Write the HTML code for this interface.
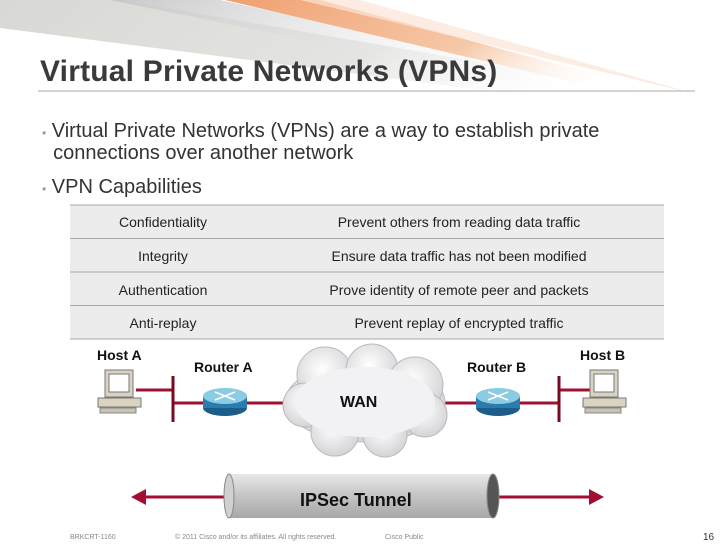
<!DOCTYPE html>
<html><head><meta charset="utf-8"><style>
body{margin:0;width:728px;height:546px;overflow:hidden;background:#fff;font-family:"Liberation Sans",sans-serif;position:relative}
.a{position:absolute;white-space:nowrap}
</style></head><body>
<svg class="a" style="left:0;top:0" width="728" height="546">
<defs>
<linearGradient id="g1" x1="0" y1="0" x2="1" y2="0.2"><stop offset="0" stop-color="#d8d8d4"/><stop offset="0.6" stop-color="#e4e4e2"/><stop offset="1" stop-color="#fff" stop-opacity="0"/></linearGradient>
<linearGradient id="g2" x1="0" y1="0" x2="1" y2="0.3"><stop offset="0" stop-color="#f0a070"/><stop offset="0.6" stop-color="#f6c8a8"/><stop offset="1" stop-color="#fff" stop-opacity="0"/></linearGradient>
<linearGradient id="g3" x1="0" y1="0" x2="1" y2="0.3"><stop offset="0" stop-color="#c8c8c8"/><stop offset="1" stop-color="#fff" stop-opacity="0"/></linearGradient>
<linearGradient id="tub" x1="0" y1="0" x2="0" y2="1"><stop offset="0" stop-color="#e8e8e8"/><stop offset="0.5" stop-color="#c4c4c4"/><stop offset="1" stop-color="#a8a8a8"/></linearGradient>
<radialGradient id="cl" cx="0.45" cy="0.4" r="0.6"><stop offset="0" stop-color="#fff"/><stop offset="1" stop-color="#d4d4d8"/></radialGradient>
</defs>
<polygon points="0,0 120,0 700,100 560,100 0,28" fill="url(#g1)"/>
<polygon points="110,0 220,0 680,100 600,100" fill="url(#g3)"/>
<polygon points="225,0 320,0 690,100 650,100" fill="url(#g2)"/>
<polygon points="300,0 360,0 700,95" fill="#fbe4d4" opacity="0.7"/>
<line x1="38" y1="91" x2="695" y2="91" stroke="#a8a8a8" stroke-width="1"/>
<rect x="70" y="205" width="594" height="134" fill="#ececec"/>
<g stroke="#a8a8a8" stroke-width="1"><line x1="70" y1="205" x2="664" y2="205"/><line x1="70" y1="238.5" x2="664" y2="238.5"/><line x1="70" y1="272" x2="664" y2="272"/><line x1="70" y1="305.5" x2="664" y2="305.5"/><line x1="70" y1="339" x2="664" y2="339"/></g>
<g font-family="Liberation Sans" font-size="14" fill="#222" text-anchor="middle">
<text x="163" y="227">Confidentiality</text><text x="459" y="227">Prevent others from reading data traffic</text>
<text x="163" y="261">Integrity</text><text x="459" y="261">Ensure data traffic has not been modified</text>
<text x="163" y="295">Authentication</text><text x="459" y="295">Prove identity of remote peer and packets</text>
<text x="163" y="328">Anti-replay</text><text x="459" y="328">Prevent replay of encrypted traffic</text>
</g>
<g stroke="#a01030" stroke-width="3">
<line x1="136" y1="390" x2="173" y2="390"/><line x1="173" y1="403" x2="300" y2="403"/>
<line x1="440" y1="403" x2="559" y2="403"/><line x1="559" y1="390" x2="590" y2="390"/>
</g>
<g stroke="#7a0a20" stroke-width="3"><line x1="173" y1="376" x2="173" y2="422"/><line x1="559" y1="376" x2="559" y2="422"/></g>
<g fill="url(#cl)" stroke="#bbb" stroke-width="1">
<ellipse cx="365" cy="402" rx="80" ry="40"/>
<circle cx="325" cy="375" r="28"/><circle cx="372" cy="370" r="26"/><circle cx="415" cy="385" r="28"/>
<circle cx="305" cy="405" r="22"/><circle cx="335" cy="432" r="24"/><circle cx="385" cy="435" r="22"/><circle cx="425" cy="415" r="22"/>
</g>
<ellipse cx="365" cy="402" rx="70" ry="35" fill="#f2f2f4"/>
<text x="340" y="407" font-family="Liberation Sans" font-weight="bold" font-size="16" fill="#111">WAN</text>
<g>
<ellipse cx="225" cy="408" rx="22" ry="8" fill="#1c5c88"/><rect x="203" y="396" width="44" height="12" fill="#2a7cac"/><ellipse cx="225" cy="396" rx="22" ry="8" fill="#8ccbe4"/>
<ellipse cx="498" cy="408" rx="22" ry="8" fill="#1c5c88"/><rect x="476" y="396" width="44" height="12" fill="#2a7cac"/><ellipse cx="498" cy="396" rx="22" ry="8" fill="#8ccbe4"/>
<g stroke="#fff" stroke-width="1.5"><line x1="215" y1="392" x2="235" y2="400"/><line x1="215" y1="400" x2="235" y2="392"/><line x1="488" y1="392" x2="508" y2="400"/><line x1="488" y1="400" x2="508" y2="392"/></g>
</g>
<g>
<rect x="105" y="370" width="28" height="27" fill="#d8d4c0" stroke="#777"/><rect x="109" y="374" width="20" height="18" fill="#fff" stroke="#777"/>
<rect x="98" y="398" width="43" height="9" fill="#d8d4c0" stroke="#777"/><rect x="100" y="408" width="36" height="5" fill="#c8c4b0" stroke="#888"/>
<rect x="590" y="370" width="28" height="27" fill="#d8d4c0" stroke="#777"/><rect x="594" y="374" width="20" height="18" fill="#fff" stroke="#777"/>
<rect x="583" y="398" width="43" height="9" fill="#d8d4c0" stroke="#777"/><rect x="585" y="408" width="36" height="5" fill="#c8c4b0" stroke="#888"/>
</g>
<g font-family="Liberation Sans" font-weight="bold" font-size="14" fill="#111">
<text x="97" y="360">Host A</text><text x="194" y="372">Router A</text><text x="467" y="372">Router B</text><text x="580" y="360">Host B</text>
</g>
<g stroke="#a01030" stroke-width="3"><line x1="140" y1="497" x2="230" y2="497"/><line x1="490" y1="497" x2="596" y2="497"/></g>
<polygon points="131,497 146,489 146,505" fill="#a01030"/><polygon points="604,497 589,489 589,505" fill="#a01030"/>
<rect x="229" y="474" width="264" height="44" fill="url(#tub)"/>
<ellipse cx="229" cy="496" rx="5" ry="22" fill="#d0d0d0" stroke="#888"/>
<ellipse cx="493" cy="496" rx="6" ry="22" fill="#555" stroke="#888"/>
<text x="300" y="506" font-family="Liberation Sans" font-weight="bold" font-size="18" fill="#111">IPSec Tunnel</text>
<g font-family="Liberation Sans" font-size="7" fill="#888"><text x="70" y="539">BRKCRT-1160</text><text x="175" y="539">© 2011 Cisco and/or its affiliates. All rights reserved.</text><text x="385" y="539">Cisco Public</text></g>
<text x="703" y="540" font-family="Liberation Sans" font-size="10" fill="#333">16</text>
</svg>
<div class="a" style="left:40px;top:55px;font-size:30px;font-weight:bold;color:#3a3a3a;letter-spacing:0.2px">Virtual Private Networks (VPNs)</div>
<div class="a" style="left:42px;top:121px;font-size:20px;color:#333;line-height:20px"><span style="color:#999;font-size:12px">•</span> Virtual Private Networks (VPNs) are a way to establish private<br>&nbsp;&nbsp;connections over another network</div>
<div class="a" style="left:42px;top:176px;font-size:20px;color:#333"><span style="color:#999;font-size:12px">•</span> VPN Capabilities</div>
</body></html>
